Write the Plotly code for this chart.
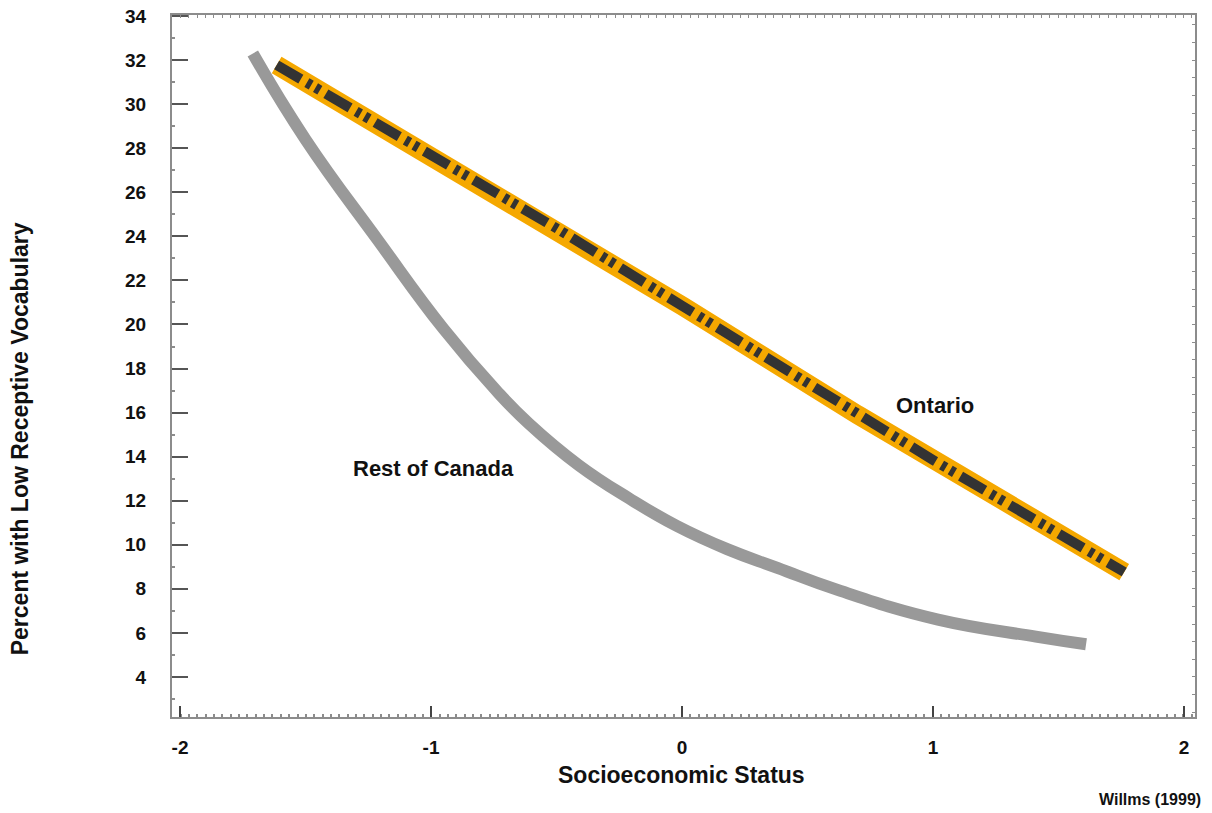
import plotly.graph_objects as go

# Data
ses_rest = [-1.71, -1.50, -1.21, -0.95, -0.74, -0.61, -0.41, -0.21, -0.02, 0.18, 0.38, 0.62, 1.02, 1.41, 1.61]
pct_rest = [32.3, 28.4, 23.8, 19.8, 17.0, 15.5, 13.6, 12.1, 10.85, 9.8, 8.95, 7.95, 6.6, 5.83, 5.48]

ses_ontario = [-1.615, -1.0, -0.49, 0.0, 0.7, 1.0, 1.762]
pct_ontario = [31.78, 27.7, 24.3, 20.85, 15.9, 13.85, 8.76]

x_ticks = [-2, -1, 0, 1, 2]
y_ticks = list(range(4, 35, 2))

FONT = "Liberation Sans, Arial, sans-serif"
AXIS_COLOR = "#8c8c8c"

fig = go.Figure()

fig.add_trace(go.Scatter(
    x=ses_rest, y=pct_rest, mode="lines", line_shape="spline",
    line=dict(color="#999999", width=12, smoothing=1.3), showlegend=False, hoverinfo="skip"))

fig.add_trace(go.Scatter(
    x=ses_ontario, y=pct_ontario, mode="lines",
    line=dict(color="#F5A800", width=19), showlegend=False, hoverinfo="skip"))

fig.add_trace(go.Scatter(
    x=ses_ontario, y=pct_ontario, mode="lines",
    line=dict(color="#333333", width=10, dash="28px,7px,5px,5px,5px,7px"),
    showlegend=False, hoverinfo="skip"))

# empty trace so the mirrored top/right axes get drawn
fig.add_trace(go.Scatter(x=[], y=[], xaxis="x2", yaxis="y2", showlegend=False))

xr = [-2.032, 2.044]
yr = [2.18, 34.05]

fig.update_layout(
    width=1212, height=813,
    margin=dict(l=172, r=17, t=15, b=96, autoexpand=False),
    paper_bgcolor="white", plot_bgcolor="white",
    font=dict(family=FONT, color="#111111"),
    xaxis=dict(
        range=xr, tickvals=x_ticks, ticktext=[str(v) for v in x_ticks],
        ticks="inside", ticklen=11, tickwidth=2, tickcolor="#444444",
        showline=True, linecolor=AXIS_COLOR, linewidth=2,
        showgrid=False, zeroline=False, automargin=False,
        minor=dict(ticks="inside", ticklen=3, dtick=0.0333, tickcolor=AXIS_COLOR),
        tickfont=dict(size=19, family=FONT, color="#111111", weight="bold"),
        ticklabelstandoff=12,
    ),
    yaxis=dict(
        range=yr, tickvals=y_ticks, ticktext=[str(v) for v in y_ticks],
        ticks="inside", ticklen=16, tickwidth=1.5, tickcolor="#555555",
        showline=True, linecolor=AXIS_COLOR, linewidth=2,
        showgrid=False, zeroline=False, automargin=False,
        minor=dict(ticks="inside", ticklen=3, dtick=1, tickcolor=AXIS_COLOR),
        tickfont=dict(size=19, family=FONT, color="#111111", weight="bold"),
        ticklabelstandoff=20,
    ),
    xaxis2=dict(
        overlaying="x", side="top", range=xr, showticklabels=False,
        ticks="inside", ticklen=3, dtick=0.0333, tickcolor=AXIS_COLOR,
        showline=True, linecolor=AXIS_COLOR, linewidth=1.5, automargin=False,
        showgrid=False, zeroline=False, anchor="y2",
    ),
    yaxis2=dict(
        overlaying="y", side="right", range=yr, showticklabels=False,
        ticks="inside", ticklen=3, dtick=0.8, tickcolor=AXIS_COLOR,
        showline=True, linecolor=AXIS_COLOR, linewidth=1.5, automargin=False,
        showgrid=False, zeroline=False, anchor="x2",
    ),
)

label_font = dict(family=FONT, size=22, color="#111111", weight="bold")
title_font = dict(family=FONT, size=23, color="#111111", weight="bold")

fig.add_annotation(x=1.01, y=16.34, xref="x", yref="y", text="Ontario",
                   showarrow=False, font=label_font)
fig.add_annotation(x=-0.99, y=13.48, xref="x", yref="y", text="Rest of Canada",
                   showarrow=False, font=label_font)

fig.add_annotation(x=0.4985, y=-0.0826, xref="paper", yref="paper",
                   text="Socioeconomic Status", showarrow=False,
                   xanchor="center", yanchor="middle", font=title_font)
fig.add_annotation(x=-0.1486, y=0.397, xref="paper", yref="paper",
                   text="Percent with Low Receptive Vocabulary", showarrow=False,
                   textangle=-90, xanchor="center", yanchor="middle", font=title_font)
fig.add_annotation(x=1.0078, y=-0.118, xref="paper", yref="paper",
                   text="Willms (1999)", showarrow=False,
                   xanchor="right", yanchor="middle",
                   font=dict(family=FONT, size=16, color="#111111", weight="bold"))

fig.write_html("out.html", config={"displayModeBar": False},
               post_script="document.body.style.margin='0';")
